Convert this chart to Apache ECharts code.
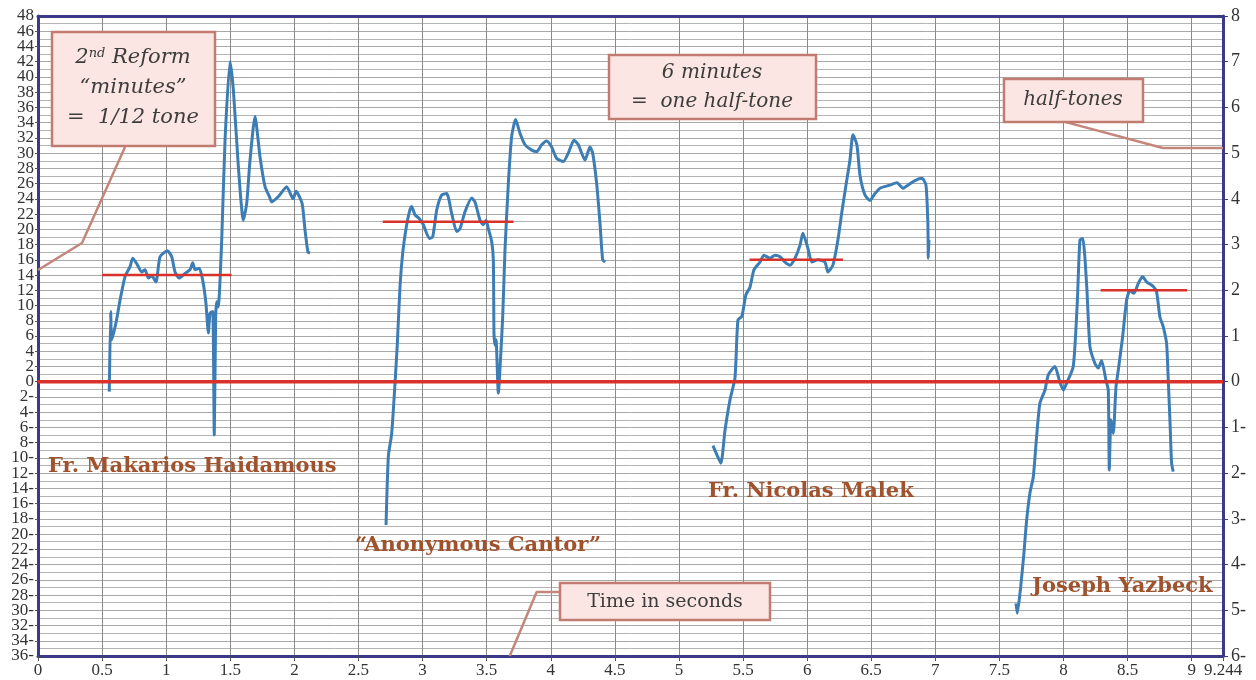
<!DOCTYPE html>
<html>
<head>
<meta charset="utf-8">
<script src="https://cdn.jsdelivr.net/npm/echarts@6/dist/echarts.min.js"></script>
<style>html,body{margin:0;padding:0;background:#fff}#c{width:1256px;height:680px}</style>
</head>
<body>
<div id="c"></div>
<script>
// ---- data (time in seconds, pitch in "minutes") ----
const xMax = 9.244;
const makarios = [[0.556,-1.3],[0.567,9.2],[0.575,5.5],[0.608,7.7],[0.64,10.7],[0.679,13.8],[0.718,15.1],[0.739,16.2],[0.77,15.5],[0.809,14.4],[0.835,14.7],[0.861,13.6],[0.887,13.9],[0.92,13.1],[0.952,16.4],[1.009,17.2],[1.043,16.4],[1.069,14.4],[1.102,13.6],[1.147,14.2],[1.186,14.7],[1.207,15.6],[1.225,14.7],[1.258,14.9],[1.285,13.3],[1.31,10.3],[1.329,6.4],[1.342,9.0],[1.363,9.2],[1.375,-7.0],[1.386,8.5],[1.394,10.5],[1.406,9.8],[1.433,18.6],[1.459,31.7],[1.498,42.0],[1.524,38.3],[1.563,28.2],[1.602,21.2],[1.628,23.4],[1.654,29.1],[1.693,34.8],[1.732,29.5],[1.771,25.6],[1.805,24.3],[1.823,23.6],[1.875,24.3],[1.94,25.6],[1.99,24.0],[2.013,25.0],[2.06,23.4],[2.083,19.9],[2.106,17.0],[2.122,16.9]];
const anonymous = [[2.715,-18.8],[2.733,-9.8],[2.759,-6.8],[2.785,-0.2],[2.803,5.0],[2.824,12.5],[2.845,16.9],[2.871,20.1],[2.897,22.3],[2.915,23.0],[2.941,21.9],[2.975,21.4],[3.006,20.6],[3.053,18.8],[3.079,19.0],[3.11,22.5],[3.149,24.5],[3.188,24.7],[3.227,22.1],[3.266,19.7],[3.292,20.1],[3.331,22.3],[3.383,24.1],[3.409,23.6],[3.448,21.2],[3.474,20.6],[3.495,21.2],[3.513,20.1],[3.539,18.4],[3.552,16.0],[3.557,6.4],[3.565,4.8],[3.573,5.5],[3.591,-1.5],[3.609,3.3],[3.625,8.5],[3.643,17.3],[3.669,26.0],[3.695,32.2],[3.726,34.4],[3.76,32.6],[3.799,31.1],[3.851,30.4],[3.89,30.2],[3.929,31.1],[3.968,31.6],[4.007,30.8],[4.046,29.3],[4.098,28.9],[4.137,30.0],[4.181,31.7],[4.215,31.1],[4.267,29.1],[4.306,30.8],[4.327,30.0],[4.358,26.0],[4.384,20.8],[4.405,16.0],[4.425,15.7]];
const malek = [[5.265,-8.4],[5.296,-9.6],[5.327,-10.7],[5.359,-6.4],[5.398,-2.4],[5.437,0.5],[5.46,8.1],[5.491,8.6],[5.522,11.4],[5.554,12.4],[5.585,14.7],[5.632,15.7],[5.663,16.6],[5.71,16.2],[5.749,16.6],[5.788,16.4],[5.827,15.7],[5.866,15.3],[5.905,16.2],[5.944,17.9],[5.967,19.5],[6.006,17.5],[6.037,15.7],[6.084,16.0],[6.139,15.7],[6.162,14.4],[6.201,15.3],[6.24,18.6],[6.271,22.3],[6.303,25.8],[6.334,29.1],[6.357,32.4],[6.388,31.1],[6.412,27.1],[6.451,24.5],[6.49,23.8],[6.529,24.7],[6.568,25.4],[6.646,25.8],[6.7,26.1],[6.747,25.4],[6.786,25.8],[6.841,26.4],[6.896,26.7],[6.927,25.8],[6.942,20.6],[6.945,16.2],[6.95,18.6]];
const yazbeck = [[7.629,-29.1],[7.639,-30.4],[7.666,-26.9],[7.691,-22.5],[7.712,-18.2],[7.738,-14.6],[7.764,-12.5],[7.79,-7.2],[7.816,-2.8],[7.855,-1.1],[7.881,0.9],[7.933,2.0],[7.967,0.2],[7.998,-1.1],[8.024,-0.2],[8.076,2.0],[8.107,10.3],[8.128,18.6],[8.15,18.8],[8.181,12.5],[8.206,4.6],[8.245,2.4],[8.271,1.8],[8.297,2.8],[8.331,0.2],[8.349,-1.1],[8.357,-11.6],[8.37,-5.0],[8.388,-6.8],[8.409,-0.7],[8.427,1.5],[8.461,5.9],[8.492,10.7],[8.518,12.0],[8.549,11.6],[8.583,12.9],[8.617,13.8],[8.648,13.1],[8.7,12.5],[8.726,11.8],[8.752,8.5],[8.778,7.2],[8.804,5.0],[8.817,0.2],[8.83,-5.0],[8.843,-10.7],[8.856,-11.8]];
// average-pitch reference segments: [xStart, xEnd, y]
const refLines = [[0.5,1.51,14],[2.69,3.71,21],[5.55,6.28,16],[8.29,8.965,12]];
// callout leader lines (data coordinates)
const callout1 = [[0.679,30.8],[0.343,18.2],[0,14.66]];
const callout2 = [[8.01,34.1],[8.775,30.67],[9.244,30.67]];
const callout3 = [[4.07,-27.6],[3.89,-27.6],[3.68,-36]];
// left axis range (minutes) and right axis range (half-tones)
const yMin = -36, yMax = 48;
const hMin = -6, hMax = 8;

const fmtNeg = v => v < 0 ? (-v) + '-' : String(v);
const navy = '#3b3a86';
const blue = '#3b7db4';
const red = '#d8322a';
const calloutColor = '#c4867b';
const serif = 'Liberation Serif';

const chart = echarts.init(document.getElementById('c'));
const series = [];
[makarios, anonymous, malek, yazbeck].forEach(d => series.push({
  type: 'line', data: d, showSymbol: false, smooth: 0.2, z: 3,
  lineStyle: {color: blue, width: 3}
}));
series.push({type: 'line', data: [[0,0],[xMax,0]], showSymbol: false, z: 4,
  lineStyle: {color: red, width: 3.5}});
refLines.forEach(r => series.push({type: 'line', data: [[r[0],r[2]],[r[1],r[2]]], showSymbol: false, z: 4,
  lineStyle: {color: red, width: 2.5}}));
[callout1, callout2, callout3].forEach(d => series.push({type: 'line', data: d, showSymbol: false, z: 2,
  lineStyle: {color: calloutColor, width: 2.5}}));

const boxStyle = {fill: '#fbe6e3', stroke: '#c27b70', lineWidth: 2.5};
const italic = {fontFamily: 'DejaVu Serif', fontStyle: 'italic', fontSize: 20, fill: '#3d3d3d'};
const labelStyle = {fontFamily: 'DejaVu Serif', fontWeight: 'bold', fontSize: 21, fill: '#a0522d'};
const leftLabel = {fontFamily: serif, fontSize: 17, color: '#333', margin: 4, formatter: fmtNeg};

chart.setOption({
  animation: false,
  grid: {left: 38, right: 33, top: 16, bottom: 24, show: false},
  xAxis: [{
    type: 'value', min: 0, max: xMax, interval: 0.5,
    axisLine: {show: true, onZero: false, lineStyle: {color: navy, width: 3}},
    axisTick: {show: true, length: 5, lineStyle: {color: '#555'}},
    axisLabel: {fontFamily: serif, fontSize: 17, color: '#333', margin: 6, showMaxLabel: true, showMinLabel: true,
      formatter: v => (Math.abs(v - xMax) < 1e-6 ? '9.244' : String(v))},
    splitLine: {show: true, lineStyle: {color: '#8a8a8a', width: 1}}
  }, {
    type: 'value', position: 'top', min: 0, max: xMax,
    axisLine: {show: true, onZero: false, lineStyle: {color: navy, width: 3}},
    axisTick: {show: false}, axisLabel: {show: false}, splitLine: {show: false}
  }],
  yAxis: [{
    type: 'value', min: yMin, max: yMax, interval: 2,
    axisLine: {show: true, onZero: false, lineStyle: {color: navy, width: 3}},
    axisTick: {show: true, length: 3, lineStyle: {color: '#555'}},
    axisLabel: Object.assign({}, leftLabel, {showMinLabel: false, showMaxLabel: false}),
    splitLine: {show: true, lineStyle: {color: '#a8a8a8', width: 1}},
    minorTick: {show: false, splitNumber: 2},
    minorSplitLine: {show: true, lineStyle: {color: '#b4b4b4', width: 1}}
  }, {
    type: 'value', position: 'right', min: hMin, max: hMax, interval: 1,
    axisLine: {show: true, onZero: false, lineStyle: {color: navy, width: 3}},
    axisTick: {show: true, length: 5, lineStyle: {color: navy}},
    axisLabel: {fontFamily: serif, fontSize: 18, color: '#333', margin: 8, formatter: fmtNeg,
      showMinLabel: true, showMaxLabel: true},
    splitLine: {show: false}
  }, {
    // extreme labels of the left axis (48 and 36-)
    type: 'value', position: 'left', min: yMin, max: yMax, interval: yMax - yMin,
    axisLine: {show: false}, axisTick: {show: false}, splitLine: {show: false},
    axisLabel: Object.assign({}, leftLabel, {showMinLabel: true, showMaxLabel: true})
  }],
  series: series,
  graphic: [
    {type: 'rect', shape: {x: 52, y: 32, width: 163, height: 114}, style: boxStyle, z: 10},
    {type: 'text', x: 133, y: 58, z: 11, style: Object.assign({}, italic, {
      text: '{a|2}{s|nd}{a| Reform}', align: 'center', verticalAlign: 'middle',
      rich: {a: {fontFamily: 'DejaVu Serif', fontStyle: 'italic', fontSize: 21, color: '#3d3d3d'},
             s: {fontFamily: 'DejaVu Serif', fontStyle: 'italic', fontSize: 13, color: '#3d3d3d', verticalAlign: 'top', padding: [0,0,8,0]}}})},
    {type: 'text', x: 133, y: 88, z: 11, style: Object.assign({}, italic, {text: '“minutes”', fontSize: 21, align: 'center', verticalAlign: 'middle'})},
    {type: 'text', x: 133, y: 118, z: 11, style: Object.assign({}, italic, {text: '=  1/12 tone', fontSize: 21, align: 'center', verticalAlign: 'middle'})},

    {type: 'rect', shape: {x: 609, y: 55, width: 207, height: 64}, style: boxStyle, z: 10},
    {type: 'text', x: 712, y: 73, z: 11, style: Object.assign({}, italic, {text: '6 minutes', align: 'center', verticalAlign: 'middle'})},
    {type: 'text', x: 712, y: 102, z: 11, style: Object.assign({}, italic, {text: '=  one half-tone', align: 'center', verticalAlign: 'middle'})},

    {type: 'rect', shape: {x: 1004, y: 79, width: 139, height: 43}, style: boxStyle, z: 10},
    {type: 'text', x: 1073, y: 100, z: 11, style: Object.assign({}, italic, {text: 'half-tones', align: 'center', verticalAlign: 'middle'})},

    {type: 'rect', shape: {x: 560, y: 583, width: 210, height: 37}, style: boxStyle, z: 10},
    {type: 'text', x: 665, y: 602, z: 11, style: {text: 'Time in seconds', fontFamily: 'DejaVu Serif', fontSize: 19, fill: '#3d3d3d', align: 'center', verticalAlign: 'middle'}},

    {type: 'text', x: 48, y: 467, z: 11, style: Object.assign({}, labelStyle, {text: 'Fr. Makarios Haidamous', verticalAlign: 'middle'})},
    {type: 'text', x: 355, y: 546, z: 11, style: Object.assign({}, labelStyle, {text: '“Anonymous Cantor”', verticalAlign: 'middle'})},
    {type: 'text', x: 708, y: 492, z: 11, style: Object.assign({}, labelStyle, {text: 'Fr. Nicolas Malek', verticalAlign: 'middle'})},
    {type: 'text', x: 1032, y: 587, z: 11, style: Object.assign({}, labelStyle, {text: 'Joseph Yazbeck', verticalAlign: 'middle'})}
  ]
});
</script>
</body>
</html>
